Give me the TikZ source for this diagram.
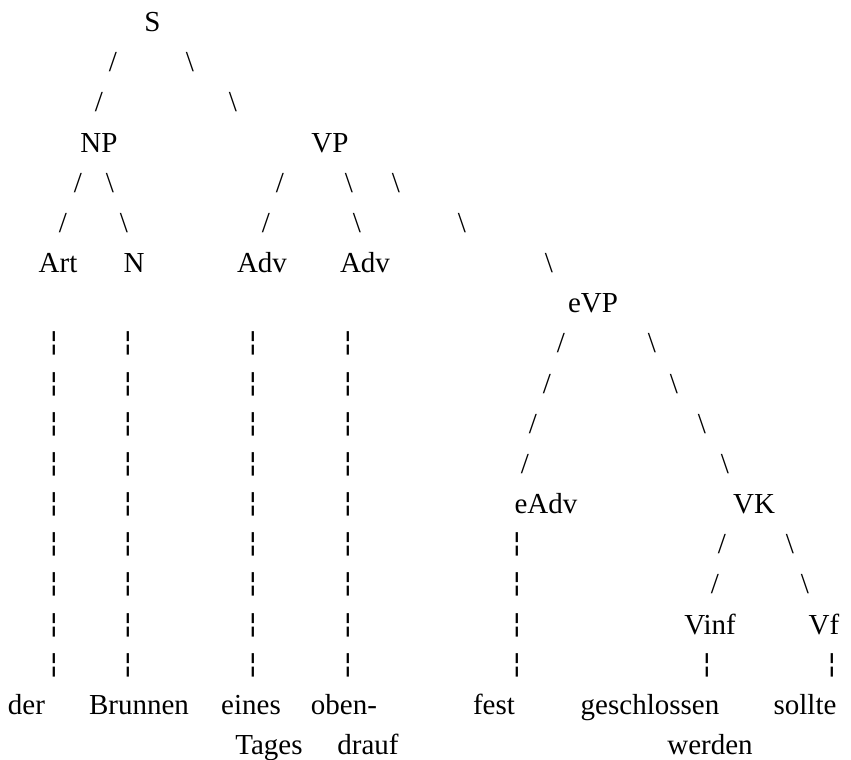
\documentclass[tikz,border=0pt]{standalone}
\usepackage{fontspec}
\setmainfont{Liberation Serif}
\newfontfamily\barfont{DejaVu Sans}
\newcommand\tn[4]{\node[lbl] (#1) at (#2,{31.5+40.17*#3}) {#4};}
\newcommand\bsl{\textbackslash}
\begin{document}
\begin{tikzpicture}[x=1pt,y=-1pt,
  lbl/.style={inner sep=0pt, anchor=base, font=\fontsize{29}{35}\selectfont},
  bar/.style={inner sep=0pt, anchor=base, font=\fontsize{27}{33}\barfont}]
\fill[white] (0,0) rectangle (851,760);
\useasboundingbox (0,0) rectangle (851,760);
% line 0
\tn{S}{152.5}{0}{S}
% line 1
\tn{a1}{113}{1}{/}
\tn{b1}{190}{1}{\bsl}
% line 2
\tn{a2}{99}{2}{/}
\tn{b2}{233}{2}{\bsl}
% line 3
\tn{NP}{99}{3}{NP}
\tn{VP}{330}{3}{VP}
% line 4
\tn{a4}{78}{4}{/}
\tn{b4}{110}{4}{\bsl}
\tn{c4}{280}{4}{/}
\tn{d4}{349}{4}{\bsl}
\tn{e4}{396}{4}{\bsl}
% line 5
\tn{a5}{63}{5}{/}
\tn{b5}{124}{5}{\bsl}
\tn{c5}{266}{5}{/}
\tn{d5}{357}{5}{\bsl}
\tn{e5}{462}{5}{\bsl}
% line 6
\tn{Art}{58}{6}{Art}
\tn{N}{134}{6}{N}
\tn{AdvA}{262}{6}{Adv}
\tn{AdvB}{365}{6}{Adv}
\tn{e6}{549}{6}{\bsl}
% line 7
\tn{eVP}{593}{7}{eVP}
% lines 8-11
\tn{a8}{561}{8}{/}
\tn{b8}{652}{8}{\bsl}
\tn{a9}{547}{9}{/}
\tn{b9}{674}{9}{\bsl}
\tn{a10}{533}{10}{/}
\tn{b10}{702}{10}{\bsl}
\tn{a11}{525}{11}{/}
\tn{b11}{725}{11}{\bsl}
% line 12
\tn{eAdv}{546}{12}{eAdv}
\tn{VK}{754}{12}{VK}
% lines 13-14
\tn{a13}{722}{13}{/}
\tn{b13}{790}{13}{\bsl}
\tn{a14}{715}{14}{/}
\tn{b14}{805}{14}{\bsl}
% line 15
\tn{Vinf}{710}{15}{Vinf}
\tn{Vf}{824}{15}{Vf}
% broken bars
\foreach \k in {8,...,16}{
  \foreach \x/\c in {54/p,128/q,253/r,348/s}{
    \node[bar] (bar-\c-\k) at (\x,{29.5+40.17*\k}) {¦};
  }
}
\foreach \k in {13,...,16}{
  \node[bar] (bar-t-\k) at (517,{29.5+40.17*\k}) {¦};
}
\node[bar] (bar-u-16) at (707,{29.5+40.17*16}) {¦};
\node[bar] (bar-v-16) at (832,{29.5+40.17*16}) {¦};
% line 17
\tn{der}{26.5}{17}{der}
\tn{Brunnen}{139}{17}{Brunnen}
\tn{eines}{251}{17}{eines}
\tn{oben}{344}{17}{oben-}
\tn{fest}{494}{17}{fest}
\tn{geschlossen}{650}{17}{geschlossen}
\tn{sollte}{805}{17}{sollte}
% line 18
\tn{Tages}{269}{18}{Tages}
\tn{drauf}{368}{18}{drauf}
\tn{werden}{710}{18}{werden}
\end{tikzpicture}
\end{document}
